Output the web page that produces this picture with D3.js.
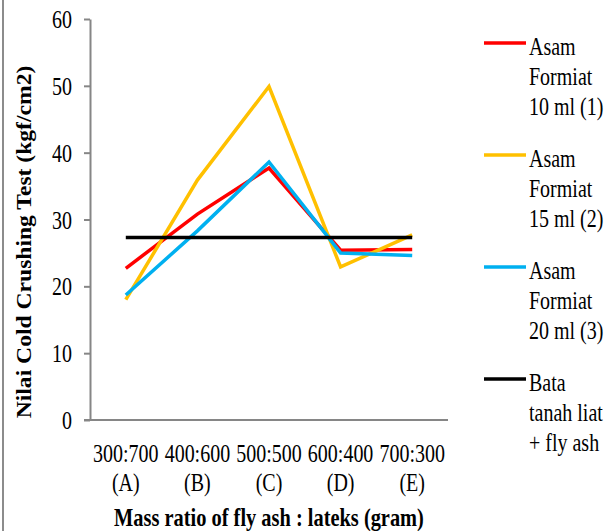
<!DOCTYPE html>
<html>
<head>
<meta charset="utf-8">
<script src="https://cdn.jsdelivr.net/npm/d3@7"></script>
<style>
  html, body { margin: 0; padding: 0; background: #fff; }
  svg { display: block; }
</style>
</head>
<body>
<svg id="chart" width="610" height="531" font-family="Liberation Serif"></svg>
<script>
// Mass ratio categories (fly ash : lateks, gram)
const ratios = ["300:700", "400:600", "500:500", "600:400", "700:300"];
const codes = ["(A)", "(B)", "(C)", "(D)", "(E)"];

// Cold crushing strength (kgf/cm2) per formic acid dose
const asam10 = [22.7, 30.8, 37.7, 25.4, 25.5];
const asam15 = [18.0, 35.9, 49.9, 22.9, 27.7];
const asam20 = [18.7, 28.3, 38.6, 25.0, 24.6];
const bataTanah = [27.3, 27.3, 27.3, 27.3, 27.3];

const seriesNames = [
  ["Asam", "Formiat", "10 ml (1)"],
  ["Asam", "Formiat", "15 ml (2)"],
  ["Asam", "Formiat", "20 ml (3)"],
  ["Bata", "tanah liat", "+ fly ash"]
];
const seriesColors = ["#FF0000", "#FFC000", "#00B0F0", "#000000"];
const seriesValues = [asam10, asam15, asam20, bataTanah];

const yTicks = [0, 10, 20, 30, 40, 50, 60];

const FONT = "Liberation Serif";
const svg = d3.select("#chart");
const sy = 1.3; // vertical stretch applied to lettering

// left frame edge
svg.append("line")
  .attr("x1", 3).attr("x2", 3).attr("y1", 0).attr("y2", 531)
  .attr("stroke", "#8c8c8c").attr("stroke-width", 2);

const plot = { left: 90, right: 448, top: 19, bottom: 420 };

const x = d3.scaleBand().domain(ratios).range([plot.left, plot.right]);
const y = d3.scaleLinear().domain([0, 60]).range([plot.bottom, plot.top]);
const cx = r => x(r) + x.bandwidth() / 2;

const axisColor = "#868686";

// y axis with left ticks
const yAxis = svg.append("g")
  .attr("transform", `translate(${plot.left},0)`)
  .call(d3.axisLeft(y).tickValues(yTicks).tickSize(6).tickSizeOuter(0).tickFormat(() => ""));
yAxis.select(".domain").attr("stroke", axisColor).attr("stroke-width", 2);
yAxis.selectAll(".tick line").attr("stroke", axisColor).attr("stroke-width", 2);

// x axis without ticks
const xAxis = svg.append("g")
  .attr("transform", `translate(0,${plot.bottom})`)
  .call(d3.axisBottom(x).tickSize(0).tickSizeOuter(0).tickFormat(() => ""));
xAxis.select(".domain").attr("stroke", axisColor).attr("stroke-width", 2)
  .attr("d", `M${plot.left - 6},0H${plot.right}`);

// y tick labels
svg.append("g").selectAll("text")
  .data(yTicks).join("text")
  .attr("transform", d => `translate(72,${y(d)}) scale(1,${sy})`)
  .attr("text-anchor", "end")
  .attr("dy", "0.35em")
  .attr("font-family", FONT).attr("font-size", 20)
  .text(d => d);

// x category labels, two lines each
const xl = svg.append("g");
xl.selectAll("text.ratio")
  .data(ratios).join("text").attr("class", "ratio")
  .attr("transform", d => `translate(${cx(d)},462) scale(1,${sy})`)
  .attr("text-anchor", "middle")
  .attr("font-family", FONT).attr("font-size", 20)
  .text(d => d);
xl.selectAll("text.code")
  .data(ratios).join("text").attr("class", "code")
  .attr("transform", (d) => `translate(${cx(d)},491) scale(1,${sy})`)
  .attr("text-anchor", "middle")
  .attr("font-family", FONT).attr("font-size", 20)
  .text((d, i) => codes[i]);

// axis titles
svg.append("text")
  .attr("transform", `translate(${(plot.left + plot.right) / 2},526) scale(1.02,${sy})`)
  .attr("text-anchor", "middle")
  .attr("font-family", FONT).attr("font-size", 20).attr("font-weight", "bold")
  .text("Mass ratio of fly ash : lateks (gram)");

svg.append("text")
  .attr("transform", `translate(31,242) rotate(-90) scale(1.18,1.05)`)
  .attr("text-anchor", "middle")
  .attr("font-family", FONT).attr("font-size", 20).attr("font-weight", "bold")
  .text("Nilai Cold Crushing Test (kgf/cm2)");

// series lines
const line = d3.line().x((d, i) => cx(ratios[i])).y(d => y(d));
svg.append("g").selectAll("path")
  .data(seriesValues).join("path")
  .attr("d", d => line(d))
  .attr("fill", "none")
  .attr("stroke", (d, i) => seriesColors[i])
  .attr("stroke-width", 3.5)
  .attr("stroke-linejoin", "miter");

// legend
const legendTop = [43, 155, 267, 379];
const lg = svg.append("g");
seriesNames.forEach((names, i) => {
  const g = lg.append("g").attr("transform", `translate(0,${legendTop[i]})`);
  g.append("line")
    .attr("x1", 484).attr("x2", 526).attr("y1", 0).attr("y2", 0)
    .attr("stroke", seriesColors[i]).attr("stroke-width", 3.5);
  names.forEach((t, j) => {
    g.append("text")
      .attr("transform", `translate(529,${12 + j * 30}) scale(1,${sy})`)
      .attr("font-family", FONT).attr("font-size", 20)
      .text(t);
  });
});
</script>
</body>
</html>
